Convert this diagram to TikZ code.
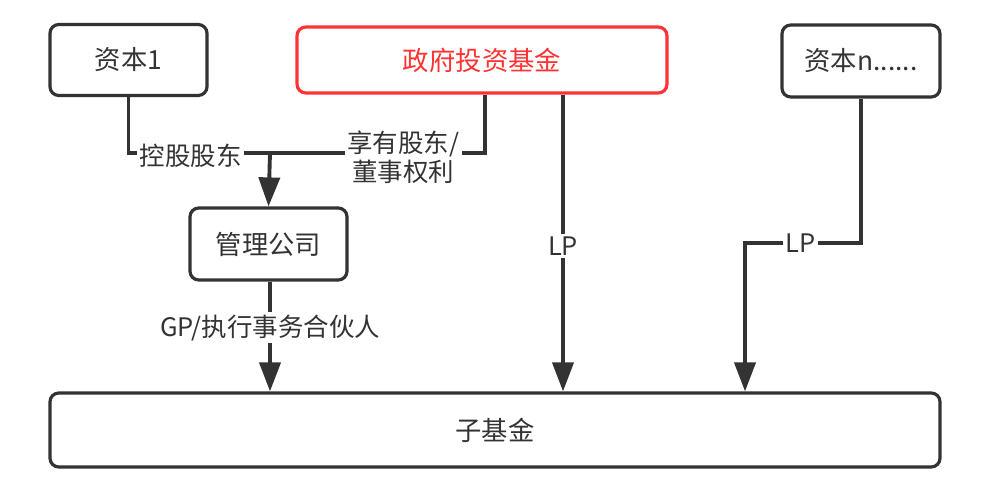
\documentclass[tikz,border=0pt]{standalone}
\usepackage{fontspec}
\setmainfont{Noto Sans CJK SC}
\usepackage{tikz}
\usetikzlibrary{arrows.meta, positioning, calc}
\definecolor{ink}{HTML}{333333}
\definecolor{govred}{HTML}{FF3333}
\tikzstyle{arrow} = [line width=2.2pt, draw=ink, -{Triangle[length=0.58cm, width=0.42cm]}]
\tikzstyle{link} = [line width=2.2pt, draw=ink]
\tikzstyle{box} = [rectangle, rounded corners=5pt, line width=1.8pt, draw=ink, text=ink, minimum width=3.14cm, minimum height=1.42cm, text centered, font=\fontsize{15}{18}\selectfont]
\tikzstyle{lbl} = [fill=white, text=ink, inner sep=1.5pt, align=center, font=\fontsize{14.5}{16.5}\selectfont]

\begin{document}
\begin{tikzpicture}
    \useasboundingbox (0,0) rectangle (19.78,-10);
    % Investors
    \node[box] (cap1) at (2.57,-1.2) {资本1};
    \node[box, draw=govred, text=govred, minimum width=7.4cm, minimum height=1.32cm] (gov) at (9.64,-1.2) {政府投资基金};
    \node[box, minimum width=3.16cm, minimum height=1.44cm] (capn) at (17.22,-1.22) {资本n......};
    
    % Management and fund
    \node[box, minimum height=1.44cm] (mgmt) at (5.37,-4.88) {管理公司};
    \node[box, minimum width=17.8cm, minimum height=1.48cm] (sub) at (9.9,-8.6) {子基金};
    
    % Junction points
    \coordinate (j) at (5.4,-3.06);
    \coordinate (g1) at (9.7,-3.06);
    \coordinate (g2) at (11.26,-3.06);
    \coordinate (n1) at (14.9,-4.86);
    
    % Arrows
    \draw[link] (cap1.south) |- node[lbl, pos=0.72, yshift=-0.06cm] {控股股东} (j);
    \draw[link] (g1 |- gov.south) |- node[lbl, pos=0.69, yshift=-0.08cm] {享有股东/\\董事权利} (j);
    \draw[arrow] (j) -- (mgmt.north);
    \draw[arrow] (mgmt.south -| j) -- node[lbl, pos=0.42] {GP/执行事务合伙人} (sub.north -| j);
    \draw[arrow] (g2 |- gov.south) -- node[lbl, pos=0.51] {LP} (sub.north -| g2);
    \draw[arrow] (capn.south) |- node[lbl, pos=0.76] {LP} (n1) -- (sub.north -| n1);
    
\end{tikzpicture}
\end{document}
